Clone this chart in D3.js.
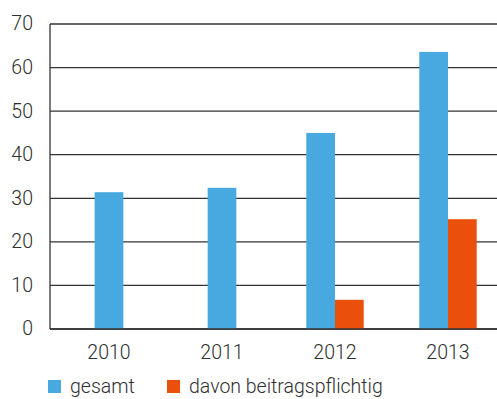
<!DOCTYPE html>
<html>
<head>
<meta charset="utf-8">
<script src="https://cdn.jsdelivr.net/npm/d3@7"></script>
<style>
  html, body { margin: 0; padding: 0; background: #fff; }
  svg { display: block; }
  text { font-family: Roboto, "Liberation Sans", Arial, sans-serif; font-weight: 300; fill: #2e2e2e; }
</style>
</head>
<body>
<svg id="chart" width="497" height="399"></svg>
<script>
const categories = ["2010", "2011", "2012", "2013"];
const seriesNames = ["gesamt", "davon beitragspflichtig"];
const gesamt = [31.4, 32.4, 45.0, 63.6];
const beitragspflichtig = [null, null, 6.7, 25.2];
const yTicks = [0, 10, 20, 30, 40, 50, 60, 70];
const colors = ["#48a9e0", "#ea500c"];

(function () {
const svg = d3.select("#chart");
const plotLeft = 50, plotRight = 497, plotTop = 24, plotBottom = 329;
const fs = 19.5;

const x = d3.scalePoint().domain(categories).range([109, 448]);
const y = d3.scaleLinear().domain([0, 70]).range([plotBottom, plotTop]);
const barW = 28.7;

// gridlines
svg.append("g").selectAll("line").data(yTicks).join("line")
  .attr("x1", plotLeft).attr("x2", plotRight)
  .attr("y1", d => y(d)).attr("y2", d => y(d))
  .attr("stroke", "#333").attr("stroke-width", 1.3);

// y axis line
svg.append("line").attr("x1", plotLeft).attr("x2", plotLeft)
  .attr("y1", y(70)).attr("y2", y(0))
  .attr("stroke", "#333").attr("stroke-width", 1.3);

// y labels
svg.append("g").selectAll("text").data(yTicks).join("text")
  .attr("x", 33).attr("y", d => y(d))
  .attr("dy", "0.33em")
  .attr("text-anchor", "end")
  .attr("font-size", fs)
  .text(d => d);

// bars
const rows = categories.map((c, i) => ({ c, vals: [gesamt[i], beitragspflichtig[i]] }));
const barsG = svg.append("g");
rows.forEach(r => {
  const present = r.vals.map((v, k) => ({ v, k })).filter(d => d.v != null);
  const inner = d3.scaleBand().domain(present.map(d => d.k))
    .range([x(r.c) - barW * present.length / 2, x(r.c) + barW * present.length / 2]);
  barsG.append("g").selectAll("rect").data(present).join("rect")
    .attr("x", d => inner(d.k))
    .attr("width", inner.bandwidth())
    .attr("y", d => y(d.v))
    .attr("height", d => y(0) - y(d.v))
    .attr("fill", d => colors[d.k]);
});

// baseline on top
svg.append("line").attr("x1", plotLeft).attr("x2", plotRight)
  .attr("y1", y(0)).attr("y2", y(0))
  .attr("stroke", "#333").attr("stroke-width", 1.3);

// x labels
svg.append("g").selectAll("text").data(categories).join("text")
  .attr("x", d => x(d)).attr("y", 359)
  .attr("text-anchor", "middle")
  .attr("font-size", fs)
  .text(d => d);

// legend
const legendX = [48, 167];
const lg = svg.append("g");
seriesNames.forEach((s, k) => {
  lg.append("rect").attr("x", legendX[k]).attr("y", 380)
    .attr("width", 13).attr("height", 13).attr("fill", colors[k]);
  lg.append("text").attr("x", legendX[k] + 22).attr("y", 393)
    .attr("font-size", fs).text(s);
});
})();
</script>
</body>
</html>
